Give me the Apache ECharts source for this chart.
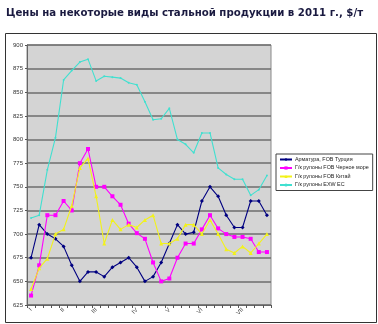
<!DOCTYPE html>
<html><head><meta charset="utf-8">
<script src="https://cdn.jsdelivr.net/npm/echarts@6/dist/echarts.min.js"></script>
<style>html,body{margin:0;padding:0;background:#fff}#c{width:378px;height:324px}</style>
</head><body><div id="c"></div>
<script>
const titleText = 'Цены на некоторые виды стальной продукции в 2011 г., $/т';
const seriesNames = ['Арматура, FOB Турция', 'Г/к рулоны FOB Черное море', 'Г/к рулоны FOB Китай', 'Г/к рулоны EXW ЕС'];
const weeks = Array.from({length: 30}, (_, i) => String(i + 1));
const monthLabelIdx = [0, 4, 8, 13, 17, 21, 26];
const monthLabels = ['I', 'II', 'III', 'IV', 'V', 'VI', 'VII'];
const rebarTurkey = [675,710,700,695,687,667,650,660,660,655,665,670,675,665,650,655,670,690,710,700,702,735,750,740,720,707,707,735,735,720];
const hrcBlackSea = [635,667,720,720,735,725,775,790,750,750,740,731,711,701,695,670,650,653,675,690,690,705,720,706,700,697,697,695,681,681];
const hrcChina = [642,664,674,700,705,730,770,780,740,690,715,705,710,707,715,720,690,690,695,710,710,700,715,700,684,680,687,680,690,700];
const hrcEU = [717,720,768,802,863,873,882,885,862,867,866,865,860,858,840,821,822,833,800,795,786,807,807,770,763,758,758,741,747,762];
const yTicks = {min: 625, max: 900, step: 25};

const colors = ['#000080', '#ff00ff', '#f2f21a', '#40e0d0'];
const symbols = ['diamond', 'rect', 'triangle', 'circle'];
const symSizes = [4, 4, 4, 2];
const dataSets = [rebarTurkey, hrcBlackSea, hrcChina, hrcEU];

const chart = echarts.init(document.getElementById('c'), null, {renderer: 'canvas'});
chart.setOption({
  animation: false,
  backgroundColor: '#fff',
  title: {text: titleText, left: 1, top: 3, textStyle: {fontFamily: 'DejaVu Sans', fontSize: 10.2, fontWeight: 'bold', color: '#1a1a40'}},
  graphic: [{type: 'rect', shape: {x: 5.5, y: 33.5, width: 371, height: 289}, style: {fill: 'none', stroke: '#333', lineWidth: 1}, z: -1}],
  legend: {
    orient: 'vertical', left: 276, top: 154, width: 100,
    data: seriesNames,
    itemWidth: 12, itemHeight: 4, itemGap: 3.5,
    padding: [3, 4, 3, 3],
    borderColor: '#444', borderWidth: 1, backgroundColor: '#fff',
    textStyle: {fontFamily: 'Liberation Sans', fontSize: 5.4, color: '#222', padding: [0,0,0,-2]}
  },
  grid: {left: 27, right: 107, top: 45, bottom: 19, show: true, backgroundColor: '#d4d4d4', borderColor: '#8a8a8a', borderWidth: 1},
  xAxis: {
    type: 'category', data: weeks, boundaryGap: true,
    axisLine: {lineStyle: {color: '#666'}},
    axisTick: {show: true, interval: 0, length: 3, lineStyle: {color: '#555'}},
    axisLabel: {
      rotate: 45, fontSize: 6, color: '#333', fontFamily: 'Liberation Sans', margin: 4,
      interval: (i) => monthLabelIdx.includes(i),
      formatter: (v, i) => { const k = monthLabelIdx.indexOf(i); return k >= 0 ? monthLabels[k] : ''; }
    },
    splitLine: {show: false}
  },
  yAxis: {
    type: 'value', min: yTicks.min, max: yTicks.max, interval: yTicks.step,
    axisLine: {show: true, lineStyle: {color: '#666'}},
    axisTick: {show: true, length: 2, lineStyle: {color: '#555'}},
    axisLabel: {fontSize: 6, color: '#333', fontFamily: 'Liberation Sans', margin: 4},
    splitLine: {lineStyle: {color: '#6e6e6e', width: 1.6}}
  },
  series: seriesNames.map((n, k) => ({
    name: n, type: 'line', data: dataSets[k],
    symbol: symbols[k], symbolSize: symSizes[k], showSymbol: true,
    lineStyle: {color: colors[k], width: 1.1},
    itemStyle: {color: colors[k]},
    z: k === 3 ? 2 : 3 + k
  }))
});
</script></body></html>
